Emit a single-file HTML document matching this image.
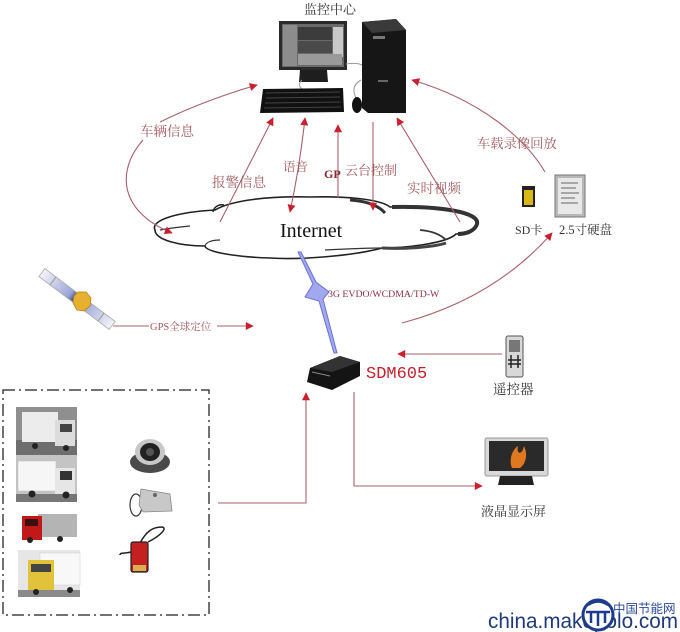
<!DOCTYPE html>
<html><head><meta charset="utf-8"><style>
html,body{margin:0;padding:0;background:#fff;}
svg{display:block;}
.lb{font-family:"Liberation Serif","Noto Serif CJK SC","Noto Sans CJK SC",serif;fill:#a35a5e;}
.bk{font-family:"Liberation Serif","Noto Serif CJK SC","Noto Sans CJK SC",serif;fill:#333;}
</style></head><body>
<svg width="680" height="632" viewBox="0 0 680 632" xmlns="http://www.w3.org/2000/svg">
<defs>
<marker id="a" viewBox="0 0 10 10" refX="9" refY="5" markerWidth="10" markerHeight="8" markerUnits="userSpaceOnUse" orient="auto-start-reverse"><path d="M0,0 L10,5 L0,10 z" fill="#c8202e"/></marker>
<linearGradient id="sp" x1="0" y1="0" x2="1" y2="0"><stop offset="0" stop-color="#f4f4f8"/><stop offset="0.4" stop-color="#9aa6d8"/><stop offset="0.5" stop-color="#2a3a7a"/><stop offset="0.6" stop-color="#9aa6d8"/><stop offset="1" stop-color="#f4f4f8"/></linearGradient>
</defs>
<rect width="680" height="632" fill="#fff"/>

<!-- title -->
<text x="304" y="14" font-size="13" class="bk">监控中心</text>

<!-- monitor -->
<rect x="279" y="21" width="68" height="49" fill="#2a2a2a"/>
<rect x="282" y="24" width="62" height="43" fill="#6a6a6a"/>
<rect x="283" y="25" width="14" height="41" fill="#8c8c8c"/>
<rect x="298" y="27" width="34" height="13" fill="#3c3c3c"/>
<rect x="298" y="41" width="34" height="12" fill="#4a4a4a"/>
<rect x="333" y="27" width="10" height="30" fill="#c8c8c8"/>
<rect x="298" y="54" width="44" height="11" fill="#9a9a9a"/>
<path d="M300,70 L327,70 L328,82 L299,82 Z" fill="#1e1e1e"/>
<path d="M346,64 Q358,62 364,66" stroke="#999" fill="none"/>
<path d="M302,80 Q296,86 304,90" stroke="#999" fill="none"/>
<!-- tower -->
<path d="M362,22 L396,19 L406,30 L406,113 L368,113 L362,108 Z" fill="#161616"/>
<path d="M362,22 L396,19 L406,30 L372,33 Z" fill="#3a3a3a"/>
<rect x="373" y="36" width="12" height="3" fill="#777"/>
<rect x="378" y="80" width="10" height="2" fill="#666"/>
<path d="M361,80 Q350,86 356,98" stroke="#999" fill="none"/>
<!-- keyboard -->
<path d="M263,89 L343,88 L344,112 L260,113 Z" fill="#111"/>
<path d="M266,93 L340,92 M266,98 L340,97 M265,103 L341,102 M264,108 L341,107" stroke="#444" stroke-width="1"/>
<!-- mouse -->
<ellipse cx="357" cy="105" rx="5" ry="8" fill="#111"/>

<!-- cloud -->
<path d="M155,230 C150,220 178,212 215,210 C232,200 270,196 310,197 C345,196 380,199 390,207 C430,204 476,210 477,222 C478,230 466,234 456,234 C446,244 402,248 382,248 C352,256 300,260 270,258 C236,257 206,252 205,246 C180,246 155,240 155,230 Z" fill="#fff" stroke="#222" stroke-width="1.6"/>
<path d="M392,207 C440,206 480,212 477,224 C475,231 466,234 458,234" fill="none" stroke="#333" stroke-width="4"/>
<path d="M446,243 C430,248 400,249 382,248" fill="none" stroke="#444" stroke-width="3"/>
<path d="M350,200 C365,201 378,205 385,213" fill="none" stroke="#333" stroke-width="3"/>
<path d="M213,212 C214,206 220,204 224,205" fill="none" stroke="#222" stroke-width="1.5"/>
<path d="M160,230 C170,228 180,227 190,226" fill="none" stroke="#333" stroke-width="1.2"/>
<path d="M420,230 C432,231 440,234 446,240" fill="none" stroke="#333" stroke-width="1.8"/>
<path d="M205,246 C206,242 212,240 220,240" fill="none" stroke="#333" stroke-width="1.2"/>
<path d="M325,250 C345,249 370,248 382,248" fill="none" stroke="#333" stroke-width="1.2"/>
<text x="280" y="237" font-size="20" font-family="Liberation Serif,serif" fill="#111">Internet</text>

<!-- connectors top -->
<g stroke="#a8606a" stroke-width="1.1" fill="none">
<path d="M160,122 Q205,100 257,85" marker-end="url(#a)"/>
<path d="M143,140 C118,168 116,210 172,233" marker-end="url(#a)"/>
<path d="M220,222 L273,118" marker-end="url(#a)"/>
<path d="M305,118 Q300,165 290,212" marker-start="url(#a)" marker-end="url(#a)"/>
<path d="M338,198 L338,125" marker-end="url(#a)"/>
<path d="M373,122 L373,210" marker-end="url(#a)"/>
<path d="M460,222 L397,118" marker-end="url(#a)"/>
<path d="M545,172 C525,138 480,100 412,80" marker-end="url(#a)"/>
<path d="M402,323 Q495,298 552,233" marker-end="url(#a)"/>
</g>
<text x="140" y="136" font-size="13.5" class="lb">车辆信息</text>
<text x="212" y="187" font-size="13.5" class="lb">报警信息</text>
<text x="283" y="171" font-size="12.5" class="lb">语音</text>
<text x="324" y="178" font-size="12" font-weight="bold" font-family="Liberation Serif,serif" fill="#8a2a30">GP</text>
<text x="345" y="175" font-size="13" class="lb">云台控制</text>
<text x="407" y="193" font-size="13.5" class="lb">实时视频</text>
<text x="477" y="148" font-size="13.3" class="lb">车载录像回放</text>

<!-- SD card and HDD -->
<rect x="522" y="186" width="13" height="21" fill="#222"/>
<rect x="524" y="190" width="9" height="15" fill="#d8b818"/>
<rect x="555" y="175" width="30" height="42" fill="#b8b8b8" stroke="#777"/>
<rect x="558" y="178" width="24" height="36" fill="#e8e8e8"/>
<path d="M561,183 H578 M561,188 H576 M561,193 H579 M561,198 H575 M561,203 H578" stroke="#666" stroke-width="1"/>
<text x="515" y="234" font-size="12" class="bk" fill="#222">SD卡</text>
<text x="559" y="234" font-size="12.5" class="bk" fill="#222">2.5寸硬盘</text>

<!-- lightning -->
<polygon points="298,252 301,252 316,282 329,292 323,299 337,353 334,353 319,301 305,297 313,284" fill="#a2a8ee" stroke="#6a72d6" stroke-width="1"/>
<text x="328" y="297" font-size="9.8" font-family="Liberation Serif,serif" fill="#8a3040">3G EVDO/WCDMA/TD-W</text>

<!-- satellite -->
<g transform="translate(77,299) rotate(37)">
<rect x="-44" y="-5" width="88" height="10" fill="url(#sp)" stroke="#aaa" stroke-width="0.8"/>
<line x1="-30" y1="-5" x2="-30" y2="5" stroke="#999"/>
<line x1="30" y1="-5" x2="30" y2="5" stroke="#999"/>
</g>
<polygon points="78,292 86,292 91,298 90,306 84,311 77,310 73,303 74,296" fill="#e8b030" stroke="#b88010" stroke-width="0.8"/>

<!-- GPS arrow -->
<g stroke="#a8606a" stroke-width="1.1" fill="none">
<path d="M113,326 L149,326"/>
<path d="M217,326 L253,326" marker-end="url(#a)"/>
</g>
<text x="150" y="330" font-size="10.5" class="lb">GPS全球定位</text>

<!-- SDM605 device -->
<path d="M310,368 L340,356 L360,362 L360,376 L332,390 L307,382 Z" fill="#141414"/>
<path d="M310,368 L340,356 L360,362 L332,372 Z" fill="#333"/>
<path d="M312,372 L330,376" stroke="#888" stroke-width="1"/>
<text x="366" y="378" font-size="17" font-family="Liberation Mono,monospace" fill="#c4202c">SDM605</text>

<!-- remote -->
<rect x="506" y="336" width="17" height="41" rx="2" fill="#d8d8d8" stroke="#555"/>
<rect x="509" y="340" width="11" height="12" fill="#777"/>
<path d="M511,355 V368 M518,355 V368 M508,360 H521 M508,364 H521" stroke="#222" stroke-width="1.5"/>
<text x="493" y="394" font-size="13.5" class="bk">遥控器</text>
<path d="M502,354 L398,354" stroke="#a8606a" stroke-width="1.1" fill="none" marker-end="url(#a)"/>

<!-- LCD -->
<rect x="485" y="438" width="63" height="38" rx="2" fill="#d8d8d8" stroke="#999"/>
<rect x="489" y="441" width="55" height="30" fill="#2a2a2a"/>
<path d="M512,468 C508,458 514,448 518,446 C516,454 522,456 524,446 C528,454 526,464 520,468 Z" fill="#e07820"/>
<path d="M500,476 L532,476 L534,485 L498,485 Z" fill="#222"/>
<text x="481" y="516" font-size="13" class="bk">液晶显示屏</text>

<!-- SDM connectors -->
<g stroke="#a8606a" stroke-width="1.1" fill="none">
<path d="M354,392 L354,486 L482,486" marker-end="url(#a)"/>
<path d="M218,503 L306,503 L306,393" marker-end="url(#a)"/>
</g>

<!-- dashed box -->
<rect x="3" y="390" width="206" height="225" fill="none" stroke="#444" stroke-width="1.5" stroke-dasharray="12,4,2,4"/>

<!-- trucks -->
<rect x="16" y="407" width="61" height="48" fill="#8f8f8f"/>
<rect x="16" y="440" width="61" height="15" fill="#6e6e6e"/>
<rect x="22" y="412" width="36" height="30" fill="#ececec"/>
<rect x="55" y="420" width="20" height="26" fill="#dcdcdc"/>
<rect x="60" y="424" width="12" height="8" fill="#444"/>
<circle cx="35" cy="446" r="3" fill="#222"/><circle cx="66" cy="448" r="3" fill="#222"/>
<rect x="16" y="455" width="61" height="47" fill="#c4c4c4"/>
<rect x="18" y="461" width="38" height="30" fill="#f6f6f6" stroke="#bbb" stroke-width="0.5"/>
<rect x="55" y="468" width="20" height="26" fill="#e6e6e6"/>
<rect x="60" y="471" width="12" height="9" fill="#333"/>
<rect x="16" y="494" width="61" height="8" fill="#777"/>
<circle cx="32" cy="494" r="3.5" fill="#222"/><circle cx="66" cy="495" r="3.5" fill="#222"/>
<rect x="38" y="514" width="39" height="23" fill="#b4b4b4"/>
<rect x="22" y="516" width="20" height="24" fill="#c21818"/>
<rect x="25" y="519" width="13" height="7" fill="#3a1010"/>
<circle cx="30" cy="540" r="3" fill="#222"/><circle cx="60" cy="539" r="3" fill="#222"/>
<rect x="18" y="550" width="62" height="47" fill="#e6e6e6"/>
<rect x="40" y="553" width="40" height="32" fill="#f8f8f8" stroke="#ccc" stroke-width="0.5"/>
<rect x="28" y="560" width="26" height="33" fill="#e2c23a"/>
<rect x="31" y="564" width="20" height="8" fill="#444"/>
<rect x="18" y="590" width="62" height="7" fill="#8a8a8a"/>
<circle cx="36" cy="592" r="3" fill="#222"/><circle cx="70" cy="590" r="3" fill="#222"/>

<!-- camera -->
<ellipse cx="150" cy="462" rx="20" ry="11" fill="#4a4a4a"/>
<ellipse cx="150" cy="452" rx="15" ry="13" fill="#c8c8c8"/>
<ellipse cx="150" cy="452" rx="10" ry="9" fill="#222"/>
<circle cx="150" cy="452" r="4" fill="#555"/>
<!-- speaker -->
<ellipse cx="136" cy="505" rx="6" ry="11" fill="none" stroke="#333" stroke-width="1.2"/>
<polygon points="141,489 170,494 172,511 143,512 139,505" fill="#c8c8c8" stroke="#888" stroke-width="0.8"/>
<circle cx="155" cy="495" r="2" fill="#666"/>
<!-- red device -->
<path d="M148,542 C160,536 168,528 162,527 C152,527 146,532 140,543" fill="none" stroke="#222" stroke-width="1.5"/>
<path d="M131,552 C124,554 120,552 120,555" fill="none" stroke="#222" stroke-width="1.5"/>
<rect x="131" y="542" width="17" height="30" rx="2" fill="#c42020" stroke="#222" stroke-width="1.2"/>
<rect x="133" y="565" width="13" height="6" fill="#d8b050"/>

<!-- watermark -->
<text x="488" y="628" font-size="21" font-family="Liberation Sans,sans-serif" fill="#1e3a7a" textLength="190" lengthAdjust="spacingAndGlyphs">china.makepolo.com</text>
<circle cx="598" cy="615" r="15" fill="#fff" stroke="#1e3a8a" stroke-width="3"/>
<path d="M586,612 H610 M591,612 V623 M598,612 V626 M605,612 V623 M588,605 Q598,598 608,605" stroke="#1e3a8a" stroke-width="2.5" fill="none"/>
<text x="613" y="613" font-size="12.5" font-family="Liberation Sans,Noto Sans CJK SC,sans-serif" fill="#2a4a9a">中国节能网</text>
</svg>
</body></html>
